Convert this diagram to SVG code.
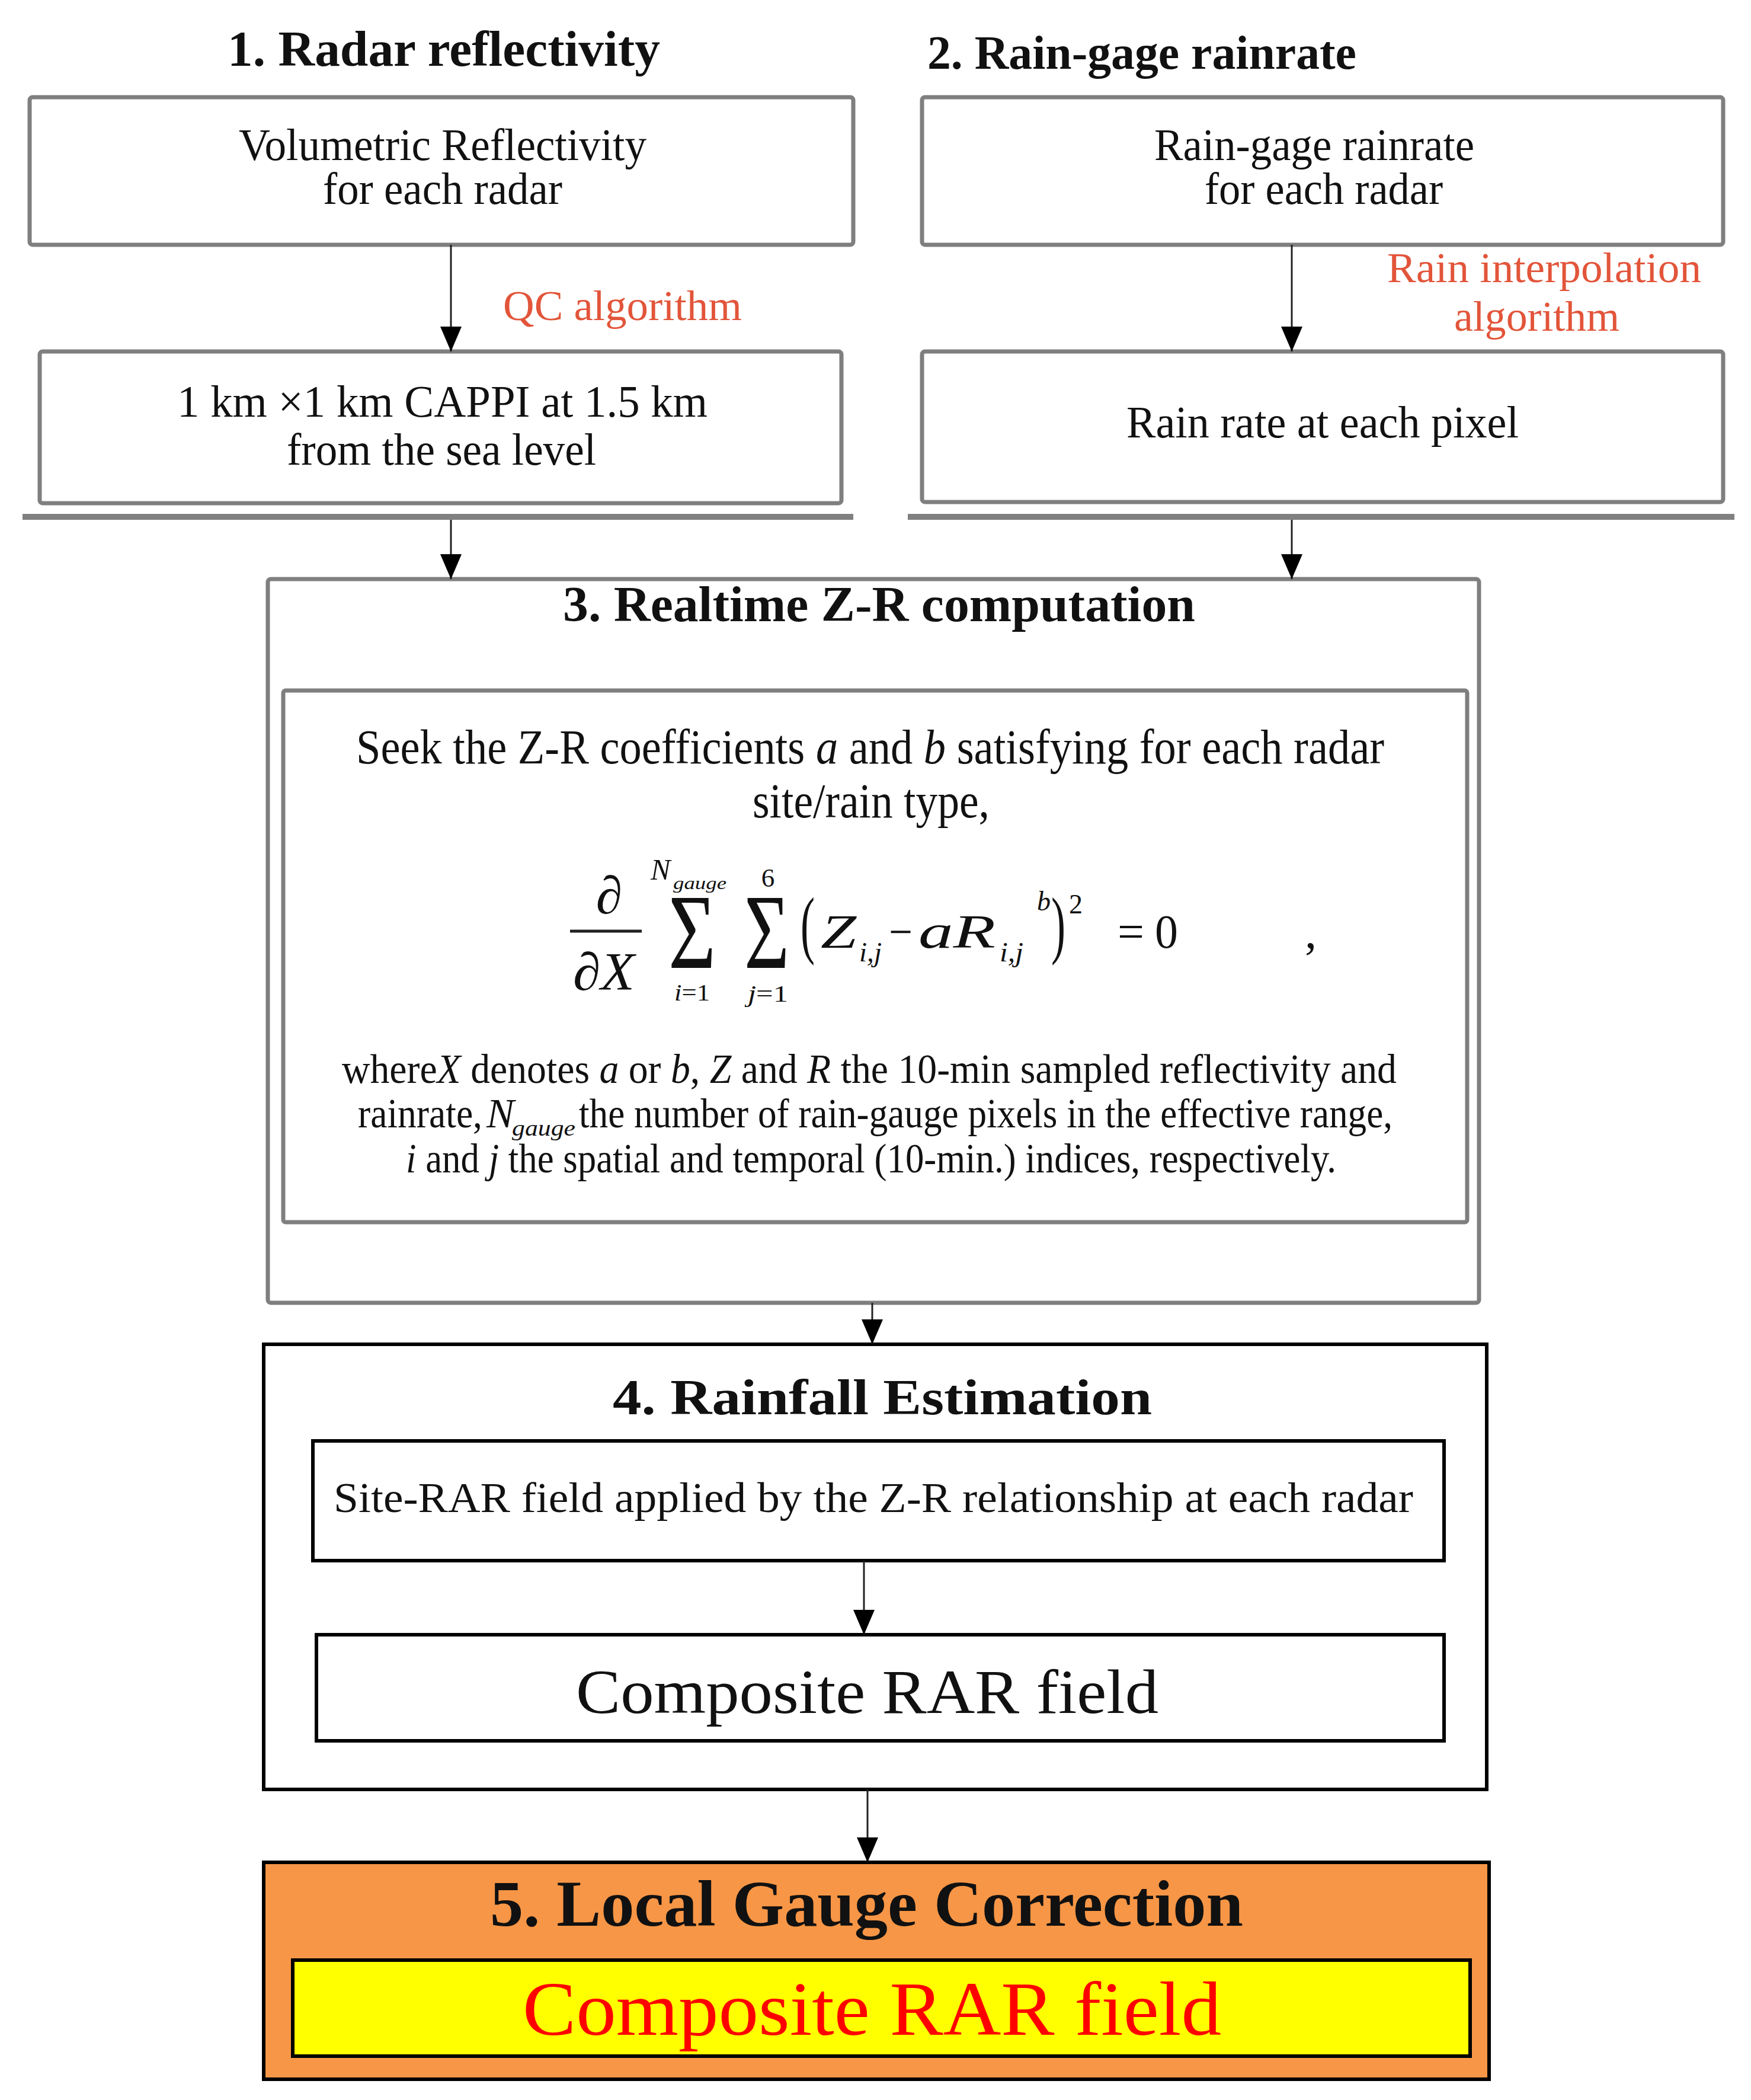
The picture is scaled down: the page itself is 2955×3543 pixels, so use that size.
<svg xmlns="http://www.w3.org/2000/svg" width="2955" height="3543" viewBox="0 0 2955 3543">
<style>
text{font-family:"Liberation Serif","Times New Roman",serif;fill:#111}
.t{font-weight:bold}
.gb{fill:#fff;stroke:#7f7f7f;stroke-width:7}
.kb{fill:#fff;stroke:#000;stroke-width:6}
.sep{stroke:#808080;stroke-width:10}
.con{stroke:#222;stroke-width:3;fill:none}
.lbl{fill:#E2553A}
.it{font-style:italic}
.eq{fill:#222}
</style>
<defs>
<marker id="ah" markerUnits="userSpaceOnUse" markerWidth="42" markerHeight="36" refX="42" refY="18" orient="auto" viewBox="0 0 42 36"><path d="M0,0 L42,18 L0,36 z" fill="#000"/></marker>
</defs>
<rect width="2955" height="3543" fill="#fff"/>

<text class="t" x="384" y="111" font-size="85" textLength="730" lengthAdjust="spacingAndGlyphs">1. Radar reflectivity</text>
<text class="t" x="1565" y="116" font-size="80" textLength="724" lengthAdjust="spacingAndGlyphs">2. Rain-gage rainrate</text>

<g id="n1a">
<rect class="gb" x="50" y="164" width="1390" height="249" rx="5"/>
<text x="403" y="270" font-size="76" textLength="688" lengthAdjust="spacingAndGlyphs">Volumetric Reflectivity</text>
<text x="545" y="344" font-size="76" textLength="404" lengthAdjust="spacingAndGlyphs">for each radar</text>
</g>
<g id="n1b">
<rect class="gb" x="67" y="593" width="1353" height="256" rx="5"/>
<text x="299" y="703" font-size="76" textLength="895" lengthAdjust="spacingAndGlyphs">1 km ×1 km CAPPI at 1.5 km</text>
<text x="484" y="784" font-size="76" textLength="522" lengthAdjust="spacingAndGlyphs">from the sea level</text>
</g>
<g id="n2a">
<rect class="gb" x="1556" y="164" width="1352" height="249" rx="5"/>
<text x="1948" y="270" font-size="76" textLength="540" lengthAdjust="spacingAndGlyphs">Rain-gage rainrate</text>
<text x="2033" y="344" font-size="76" textLength="402" lengthAdjust="spacingAndGlyphs">for each radar</text>
</g>
<g id="n2b">
<rect class="gb" x="1556" y="593" width="1352" height="254" rx="5"/>
<text x="1901" y="738" font-size="76" textLength="662" lengthAdjust="spacingAndGlyphs">Rain rate at each pixel</text>
</g>

<g id="n3">
<rect class="gb" x="452" y="977" width="2044" height="1221" rx="5"/>
<text class="t" x="950" y="1048" font-size="85" textLength="1067" lengthAdjust="spacingAndGlyphs">3. Realtime Z-R computation</text>
</g>
<g id="n3a">
<rect class="gb" x="478" y="1165" width="1998" height="897" rx="4"/>
<text x="601" y="1288" font-size="82" textLength="1735" lengthAdjust="spacingAndGlyphs">Seek the Z-R coefficients <tspan class="it">a</tspan> and <tspan class="it">b</tspan> satisfying for each radar</text>
<text x="1270" y="1379" font-size="82" textLength="400" lengthAdjust="spacingAndGlyphs">site/rain type,</text>
<g class="it eq">
<text x="1028" y="1541" font-size="90" text-anchor="middle">∂</text>
<line x1="962" y1="1571" x2="1083" y2="1571" stroke="#222" stroke-width="5"/>
<text x="967" y="1670" font-size="90" textLength="104" lengthAdjust="spacingAndGlyphs">∂X</text>
<text x="1098" y="1484" font-size="50">N</text>
<text x="1136" y="1500" font-size="30" textLength="90" lengthAdjust="spacingAndGlyphs">gauge</text>
<text x="1138" y="1688" font-size="40" textLength="60" lengthAdjust="spacingAndGlyphs">i<tspan font-style="normal">=1</tspan></text>
<text x="1262" y="1690" font-size="40" textLength="68" lengthAdjust="spacingAndGlyphs">j<tspan font-style="normal">=1</tspan></text>
<text x="1296" y="1496" font-size="45" text-anchor="middle" font-style="normal">6</text>
<text x="1385" y="1599" font-size="80" textLength="60" lengthAdjust="spacingAndGlyphs">Z</text>
<text x="1450" y="1622" font-size="46" textLength="38" lengthAdjust="spacingAndGlyphs">i,j</text>
<text x="1550" y="1599" font-size="80" textLength="130" lengthAdjust="spacingAndGlyphs">aR</text>
<text x="1687" y="1622" font-size="46" textLength="40" lengthAdjust="spacingAndGlyphs">i,j</text>
<text x="1750" y="1536" font-size="46">b</text>
</g>
<g class="eq">
<text x="1128" y="1633" font-size="180" textLength="80" lengthAdjust="spacingAndGlyphs">Σ</text>
<text x="1256" y="1633" font-size="180" textLength="76" lengthAdjust="spacingAndGlyphs">Σ</text>
<text x="1351" y="1602" font-size="128" textLength="24" lengthAdjust="spacingAndGlyphs">(</text>
<text x="1500" y="1599" font-size="80" textLength="40" lengthAdjust="spacingAndGlyphs">−</text>
<text x="1774" y="1602" font-size="128" textLength="24" lengthAdjust="spacingAndGlyphs">)</text>
<text x="1804" y="1541" font-size="46">2</text>
<text x="1886" y="1599" font-size="80" textLength="45" lengthAdjust="spacingAndGlyphs">=</text>
<text x="1949" y="1599" font-size="80" textLength="39" lengthAdjust="spacingAndGlyphs">0</text>
<text x="2202" y="1599" font-size="80">,</text>
</g>
<text x="577" y="1827" font-size="70" textLength="1780" lengthAdjust="spacingAndGlyphs">where<tspan class="it">X</tspan>  denotes <tspan class="it">a</tspan>  or  <tspan class="it">b</tspan>, <tspan class="it">Z</tspan>  and <tspan class="it">R</tspan> the 10-min sampled reflectivity and</text>
<text x="604" y="1902" font-size="70" textLength="210" lengthAdjust="spacingAndGlyphs">rainrate,</text>
<text x="821" y="1902" font-size="70" class="it">N</text>
<text x="864" y="1916" font-size="38" class="it" textLength="107" lengthAdjust="spacingAndGlyphs">gauge</text>
<text x="977" y="1902" font-size="70" textLength="1373" lengthAdjust="spacingAndGlyphs">the number of rain-gauge pixels in the effective range,</text>
<text x="685" y="1978" font-size="70" textLength="1570" lengthAdjust="spacingAndGlyphs"><tspan class="it">i</tspan> and <tspan class="it">j</tspan> the spatial and temporal (10-min.) indices, respectively.</text>
</g>

<g id="n4">
<rect class="kb" x="445" y="2268" width="2064" height="751"/>
<text class="t" x="1034" y="2386" font-size="84" textLength="910" lengthAdjust="spacingAndGlyphs">4. Rainfall Estimation</text>
</g>
<g id="n4a">
<rect class="kb" x="528" y="2431" width="1909" height="202"/>
<text x="563" y="2551" font-size="72" textLength="1822" lengthAdjust="spacingAndGlyphs">Site-RAR  field applied by the Z-R relationship  at each radar</text>
</g>
<g id="n4b">
<rect class="kb" x="534" y="2758" width="1903" height="179"/>
<text x="972" y="2890" font-size="106" textLength="983" lengthAdjust="spacingAndGlyphs">Composite RAR field</text>
</g>

<g id="n5">
<rect x="445" y="3142" width="2068" height="366" fill="#F79646" stroke="#000" stroke-width="6"/>
<text class="t" x="827" y="3249" font-size="110" textLength="1271" lengthAdjust="spacingAndGlyphs">5. Local Gauge Correction</text>
</g>
<g id="n5a">
<rect x="494" y="3307" width="1987" height="162" fill="#FFFF00" stroke="#000" stroke-width="6"/>
<text x="882" y="3433" font-size="130" textLength="1179" lengthAdjust="spacingAndGlyphs" style="fill:#FF0000">Composite RAR field</text>
</g>

<g id="connectors">
<line class="sep" x1="38" y1="872" x2="1440" y2="872"/>
<line class="sep" x1="1532" y1="872" x2="2927" y2="872"/>
<line class="con" x1="761" y1="413" x2="761" y2="593" marker-end="url(#ah)"/>
<line class="con" x1="2180" y1="413" x2="2180" y2="593" marker-end="url(#ah)"/>
<line class="con" x1="761" y1="877" x2="761" y2="977" marker-end="url(#ah)"/>
<line class="con" x1="2180" y1="877" x2="2180" y2="977" marker-end="url(#ah)"/>
<line class="con" x1="1472" y1="2198" x2="1472" y2="2268" marker-end="url(#ah)"/>
<line class="con" x1="1458" y1="2633" x2="1458" y2="2758" marker-end="url(#ah)"/>
<line class="con" x1="1464" y1="3019" x2="1464" y2="3142" marker-end="url(#ah)"/>
<text class="lbl" x="849" y="540" font-size="72" textLength="403" lengthAdjust="spacingAndGlyphs">QC algorithm</text>
<text class="lbl" x="2341" y="476" font-size="72" textLength="530" lengthAdjust="spacingAndGlyphs">Rain interpolation</text>
<text class="lbl" x="2454" y="558" font-size="72" textLength="279" lengthAdjust="spacingAndGlyphs">algorithm</text>
</g>
</svg>
